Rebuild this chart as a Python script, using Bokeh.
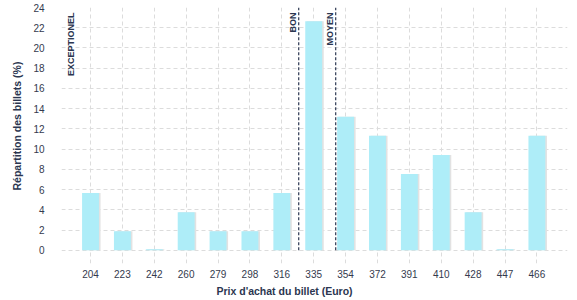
from math import pi
from bokeh.plotting import figure
from bokeh.models import FixedTicker, Range1d, Label, ColumnDataSource, Title
from bokeh.transform import dodge
from bokeh.embed import file_html
from bokeh.resources import INLINE

# ---- data ----
prices = ["204", "223", "242", "260", "279", "298", "316", "335",
          "354", "372", "391", "410", "428", "447", "466"]
shares = [5.66, 1.89, 0.1, 3.77, 1.89, 1.89, 5.66, 22.64,
          13.21, 11.32, 7.55, 9.43, 3.77, 0.1, 11.32]
y_ticks = [0, 2, 4, 6, 8, 10, 12, 14, 16, 18, 20, 22, 24]
threshold_pos = [6.53, 7.69]
threshold_names = ["BON", "MOYEN"]
x_title = "Prix d'achat du billet (Euro)"
y_title = "Répartition des billets (%)"
corner_label = "EXCEPTIONEL"

TXT = "#2b3650"
TICK = "#343a4e"
FONT = "Liberation Sans"

xs = list(range(len(prices)))
src = ColumnDataSource(dict(x=xs, top=shares))

p = figure(width=577, height=300, output_backend="svg", toolbar_location=None,
           x_range=Range1d(-0.91, 14.96), y_range=Range1d(-1.3, 24.0),
           min_border_left=61, min_border_right=10, min_border_top=7,
           min_border_bottom=37, title_location=None)
p.outline_line_color = None
p.background_fill_color = "white"
p.border_fill_color = "white"

# bars with subtle shadow
p.vbar(x=dodge("x", 0.05, range=p.x_range), top="top", width=0.53, bottom=0,
       source=src, fill_color="#e2e2e2", line_color=None)
p.vbar(x="x", top="top", width=0.53, bottom=0, source=src,
       fill_color="#aeedf8", line_color=None)

# threshold dashed lines
tsrc = ColumnDataSource(dict(x=threshold_pos, y0=[0] * len(threshold_pos),
                             y1=[24] * len(threshold_pos)))
p.segment(x0="x", y0="y0", x1="x", y1="y1", source=tsrc,
          line_color=TXT, line_width=1.2, line_dash="3 2")

for xpos, name in zip(threshold_pos, threshold_names):
    p.add_layout(Label(x=xpos, y=23.5, text=name, angle=pi / 2,
                       text_align="right", text_baseline="alphabetic",
                       x_offset=-6, text_font=FONT, text_font_size="9px",
                       text_font_style="bold", text_color=TXT))

p.add_layout(Label(x=-0.91, y=23.5, text=corner_label, angle=pi / 2,
                   text_align="right", text_baseline="alphabetic",
                   x_offset=9, text_font=FONT, text_font_size="9px",
                   text_font_style="bold", text_color=TXT))

# axes
p.xaxis.ticker = FixedTicker(ticks=xs)
p.xaxis.major_label_overrides = {i: s for i, s in zip(xs, prices)}
p.yaxis.ticker = FixedTicker(ticks=y_ticks)
for ax in (p.xaxis[0], p.yaxis[0]):
    ax.axis_line_color = None
    ax.major_tick_line_color = None
    ax.minor_tick_line_color = None
    ax.major_tick_in = 0
    ax.major_tick_out = 0
    ax.major_label_text_font = FONT
    ax.major_label_text_font_size = "10px"
    ax.major_label_text_color = TICK
p.xaxis.major_label_standoff = 6
p.yaxis.major_label_standoff = 17

for g in (p.xgrid[0], p.ygrid[0]):
    g.grid_line_color = "#dcdcdc"
    g.grid_line_dash = "4 3"
    g.grid_line_width = 1

# axis titles (as side titles so they can be shifted like the reference)
p.add_layout(Title(text=x_title, align="left", offset=155, standoff=5,
                   text_font=FONT, text_font_size="10.5px",
                   text_font_style="bold", text_color=TXT), "below")
p.add_layout(Title(text=y_title, align="left", offset=73, standoff=16,
                   text_font=FONT, text_font_size="10.5px",
                   text_font_style="bold", text_color=TXT), "left")

open("out.html", "w").write(file_html(p, INLINE))
